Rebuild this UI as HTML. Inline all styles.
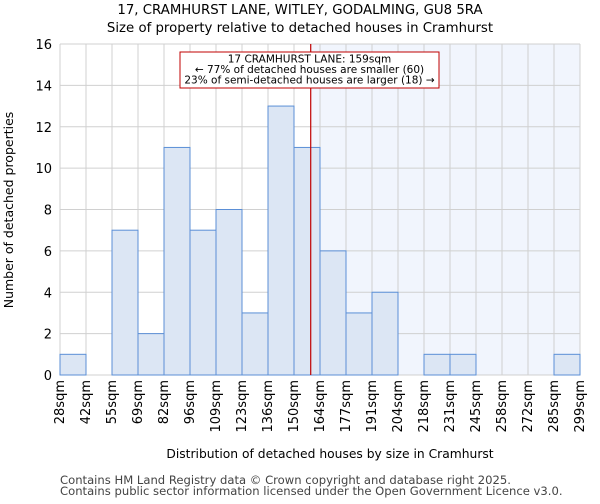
<!DOCTYPE html>
<html><head><meta charset="utf-8"><style>
body{margin:0;background:#fff;font-family:"DejaVu Sans","Liberation Sans",sans-serif;}
svg text{font-family:"DejaVu Sans","Liberation Sans",sans-serif;}
</style></head><body>
<svg id="chart" width="600" height="500" xmlns="http://www.w3.org/2000/svg">
<text x="300" y="14" text-anchor="middle" font-size="13.3">17, CRAMHURST LANE, WITLEY, GODALMING, GU8 5RA</text>
<text x="300" y="32" text-anchor="middle" font-size="13.3">Size of property relative to detached houses in Cramhurst</text>
<g id="plot"></g>
<text x="330" y="458" text-anchor="middle" font-size="12.3">Distribution of detached houses by size in Cramhurst</text>
<text transform="translate(13,210) rotate(-90)" text-anchor="middle" font-size="12.5">Number of detached properties</text>
<text x="60" y="484" font-size="11.6" fill="#444">Contains HM Land Registry data © Crown copyright and database right 2025.</text>
<text x="60" y="495" font-size="11.6" fill="#444">Contains public sector information licensed under the Open Government Licence v3.0.</text>
</svg>
<script>
const categories=["28sqm","42sqm","55sqm","69sqm","82sqm","96sqm","109sqm","123sqm","136sqm","150sqm","164sqm","177sqm","191sqm","204sqm","218sqm","231sqm","245sqm","258sqm","272sqm","285sqm","299sqm"];
const counts=[1,0,7,2,11,7,8,3,13,11,6,3,4,0,1,1,0,0,0,1];
const yTicks=[0,2,4,6,8,10,12,14,16];
const markerValue=159;
const annotationLines=["17 CRAMHURST LANE: 159sqm","← 77% of detached houses are smaller (60)","23% of semi-detached houses are larger (18) →"];
const L=60,R=580,T=44,B=375,yMax=16;
const NS="http://www.w3.org/2000/svg";
const g=document.getElementById('plot');
const bw=(R-L)/counts.length;
const xBin=i=>L+i*bw;
const y=v=>B-(v/yMax)*(B-T);
const binNums=categories.map(c=>parseFloat(c));
function xVal(v){for(let i=0;i<binNums.length-1;i++){if(v>=binNums[i]&&v<=binNums[i+1])return xBin(i)+(v-binNums[i])/(binNums[i+1]-binNums[i])*bw;}return R;}
function el(t,a){const e=document.createElementNS(NS,t);for(const k in a)e.setAttribute(k,a[k]);g.appendChild(e);return e;}
const mx=xVal(markerValue);
let e=el('rect',{x:mx,y:T,width:R-mx,height:B-T,fill:'#f1f5fd'});


for(let i=0;i<=counts.length;i++){e=el('line',{x1:xBin(i),x2:xBin(i),y1:T,y2:B,stroke:'#d0d0d0','stroke-width':1});

}
yTicks.forEach(t=>{e=el('line',{x1:L,x2:R,y1:y(t),y2:y(t),stroke:'#d0d0d0','stroke-width':1});


e=el('text',{x:L-8,y:y(t)+5,'text-anchor':'end','font-size':13});e.textContent=t;

});
counts.forEach((c,i)=>{if(c<=0)return;e=el('rect',{x:xBin(i),y:y(c),width:bw,height:B-y(c),fill:'#dce6f4',stroke:'#5b8fd6','stroke-width':1});

});
categories.forEach((c,i)=>{const x=xBin(i)+4;e=el('text',{transform:`translate(${x},380) rotate(-90)`,'text-anchor':'end','font-size':13});e.textContent=c;

});
e=el('line',{x1:mx,x2:mx,y1:T,y2:B,stroke:'#c00000','stroke-width':1.2});


e=el('rect',{x:180,y:52,width:259,height:36,fill:'#fff',stroke:'#c00000','stroke-width':1});


annotationLines.forEach((s,i)=>{e=el('text',{x:309.5,y:62.5+i*10.5,'text-anchor':'middle','font-size':10.5});e.textContent=s;

});
</script>
</body></html>
